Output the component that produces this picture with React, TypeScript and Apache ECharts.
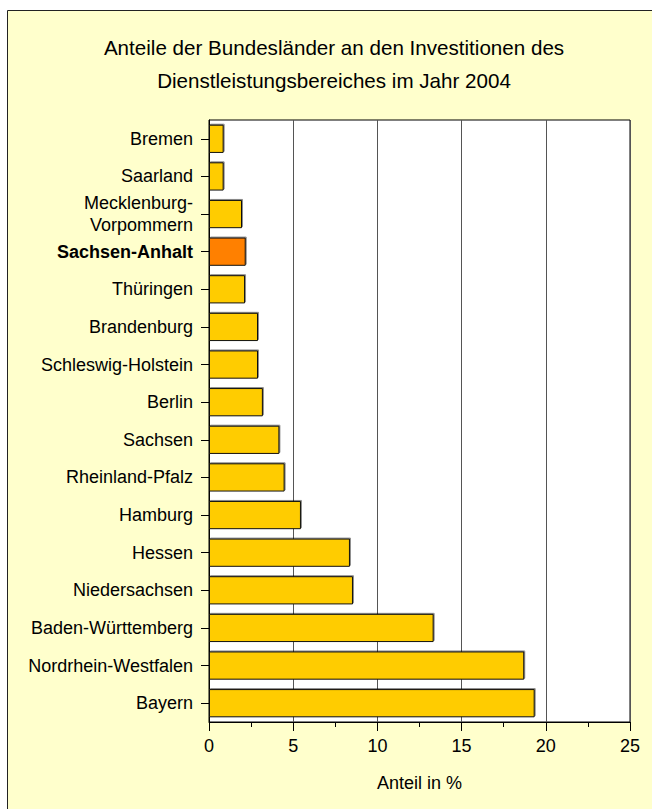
import React, { useEffect, useRef } from "react";
import * as echarts from "echarts";

const titleLines = [
  "Anteile der Bundesländer an den Investitionen des",
  "Dienstleistungsbereiches im Jahr 2004",
];
const categories = [
  "Bremen",
  "Saarland",
  "Mecklenburg-\nVorpommern",
  "Sachsen-Anhalt",
  "Thüringen",
  "Brandenburg",
  "Schleswig-Holstein",
  "Berlin",
  "Sachsen",
  "Rheinland-Pfalz",
  "Hamburg",
  "Hessen",
  "Niedersachsen",
  "Baden-Württemberg",
  "Nordrhein-Westfalen",
  "Bayern",
];
const values = [0.87, 0.87, 1.96, 2.18, 2.14, 2.91, 2.91, 3.2, 4.18, 4.49, 5.46, 8.37, 8.55, 13.34, 18.72, 19.34];
const highlighted = "Sachsen-Anhalt";
const xAxisName = "Anteil in %";

const FONT = "'Liberation Sans', Arial, Helvetica, sans-serif";

export default function App() {
  const ref = useRef<HTMLDivElement>(null);
  useEffect(() => {
    if (!ref.current) return;
    const chart = echarts.init(ref.current, undefined, { renderer: "svg" });
    chart.setOption({
      animation: false,
      backgroundColor: "#ffffff",
      textStyle: { fontFamily: FONT, color: "#000" },
      title: {
        text: titleLines.join("\n"),
        left: 334,
        top: 31,
        padding: 0,
        textAlign: "center",
        textStyle: {
          fontFamily: FONT,
          fontSize: 20.6,
          fontWeight: "normal",
          color: "#000",
          lineHeight: 33,
        },
      },
      graphic: [
        {
          type: "rect",
          z: -100,
          silent: true,
          shape: { x: 7.5, y: 10.5, width: 700, height: 900 },
          style: { fill: "#FFFFCC", stroke: "#222", lineWidth: 1 },
        },
      ],
      grid: {
        left: 209,
        top: 120,
        right: 22,
        bottom: 87,
        show: true,
        backgroundColor: "#ffffff",
        borderColor: "#000",
        borderWidth: 1,
      },
      xAxis: {
        type: "value",
        min: 0,
        max: 25,
        interval: 5,
        name: xAxisName,
        nameLocation: "middle",
        nameGap: 52,
        nameTextStyle: { fontFamily: FONT, fontSize: 18, color: "#000" },
        axisLine: { show: true, lineStyle: { color: "#000", width: 1 } },
        axisTick: { show: true, length: 9, lineStyle: { color: "#000" } },
        minorTick: { show: true, splitNumber: 2, length: 5, lineStyle: { color: "#000" } },
        axisLabel: { fontFamily: FONT, fontSize: 18, color: "#000", margin: 15 },
        splitLine: { show: true, lineStyle: { color: "#555", width: 1 } },
        z: 3,
      },
      yAxis: {
        type: "category",
        data: categories,
        inverse: true,
        axisLine: { show: true, lineStyle: { color: "#000", width: 1 } },
        axisTick: { show: true, length: 8, alignWithLabel: true, lineStyle: { color: "#000" } },
        axisLabel: {
          fontFamily: FONT,
          fontSize: 18,
          color: "#000",
          margin: 16,
          lineHeight: 22,
          align: "right",
          formatter: (v: string) => (v === highlighted ? "{b|" + v + "}" : v),
          rich: {
            b: { fontFamily: FONT, fontSize: 18, fontWeight: "bold", color: "#000" },
          },
        },
        splitLine: { show: false },
        z: 3,
      },
      series: [
        {
          type: "bar",
          z: 4,
          data: values.map((v, i) => ({
            value: v,
            itemStyle: {
              color: categories[i] === highlighted ? "#FF8000" : "#FFCC00",
            },
          })),
          barCategoryGap: "25%",
          itemStyle: {
            borderColor: "#111",
            borderWidth: 1,
            shadowColor: "rgba(0,0,0,0.45)",
            shadowOffsetX: 1,
            shadowOffsetY: -1,
            shadowBlur: 1,
          },
          emphasis: { disabled: true },
        },
      ],
    });
    return () => chart.dispose();
  }, []);
  return (
    <div
      ref={ref}
      style={{ position: "fixed", left: 0, top: 0, width: 652, height: 809 }}
    />
  );
}
